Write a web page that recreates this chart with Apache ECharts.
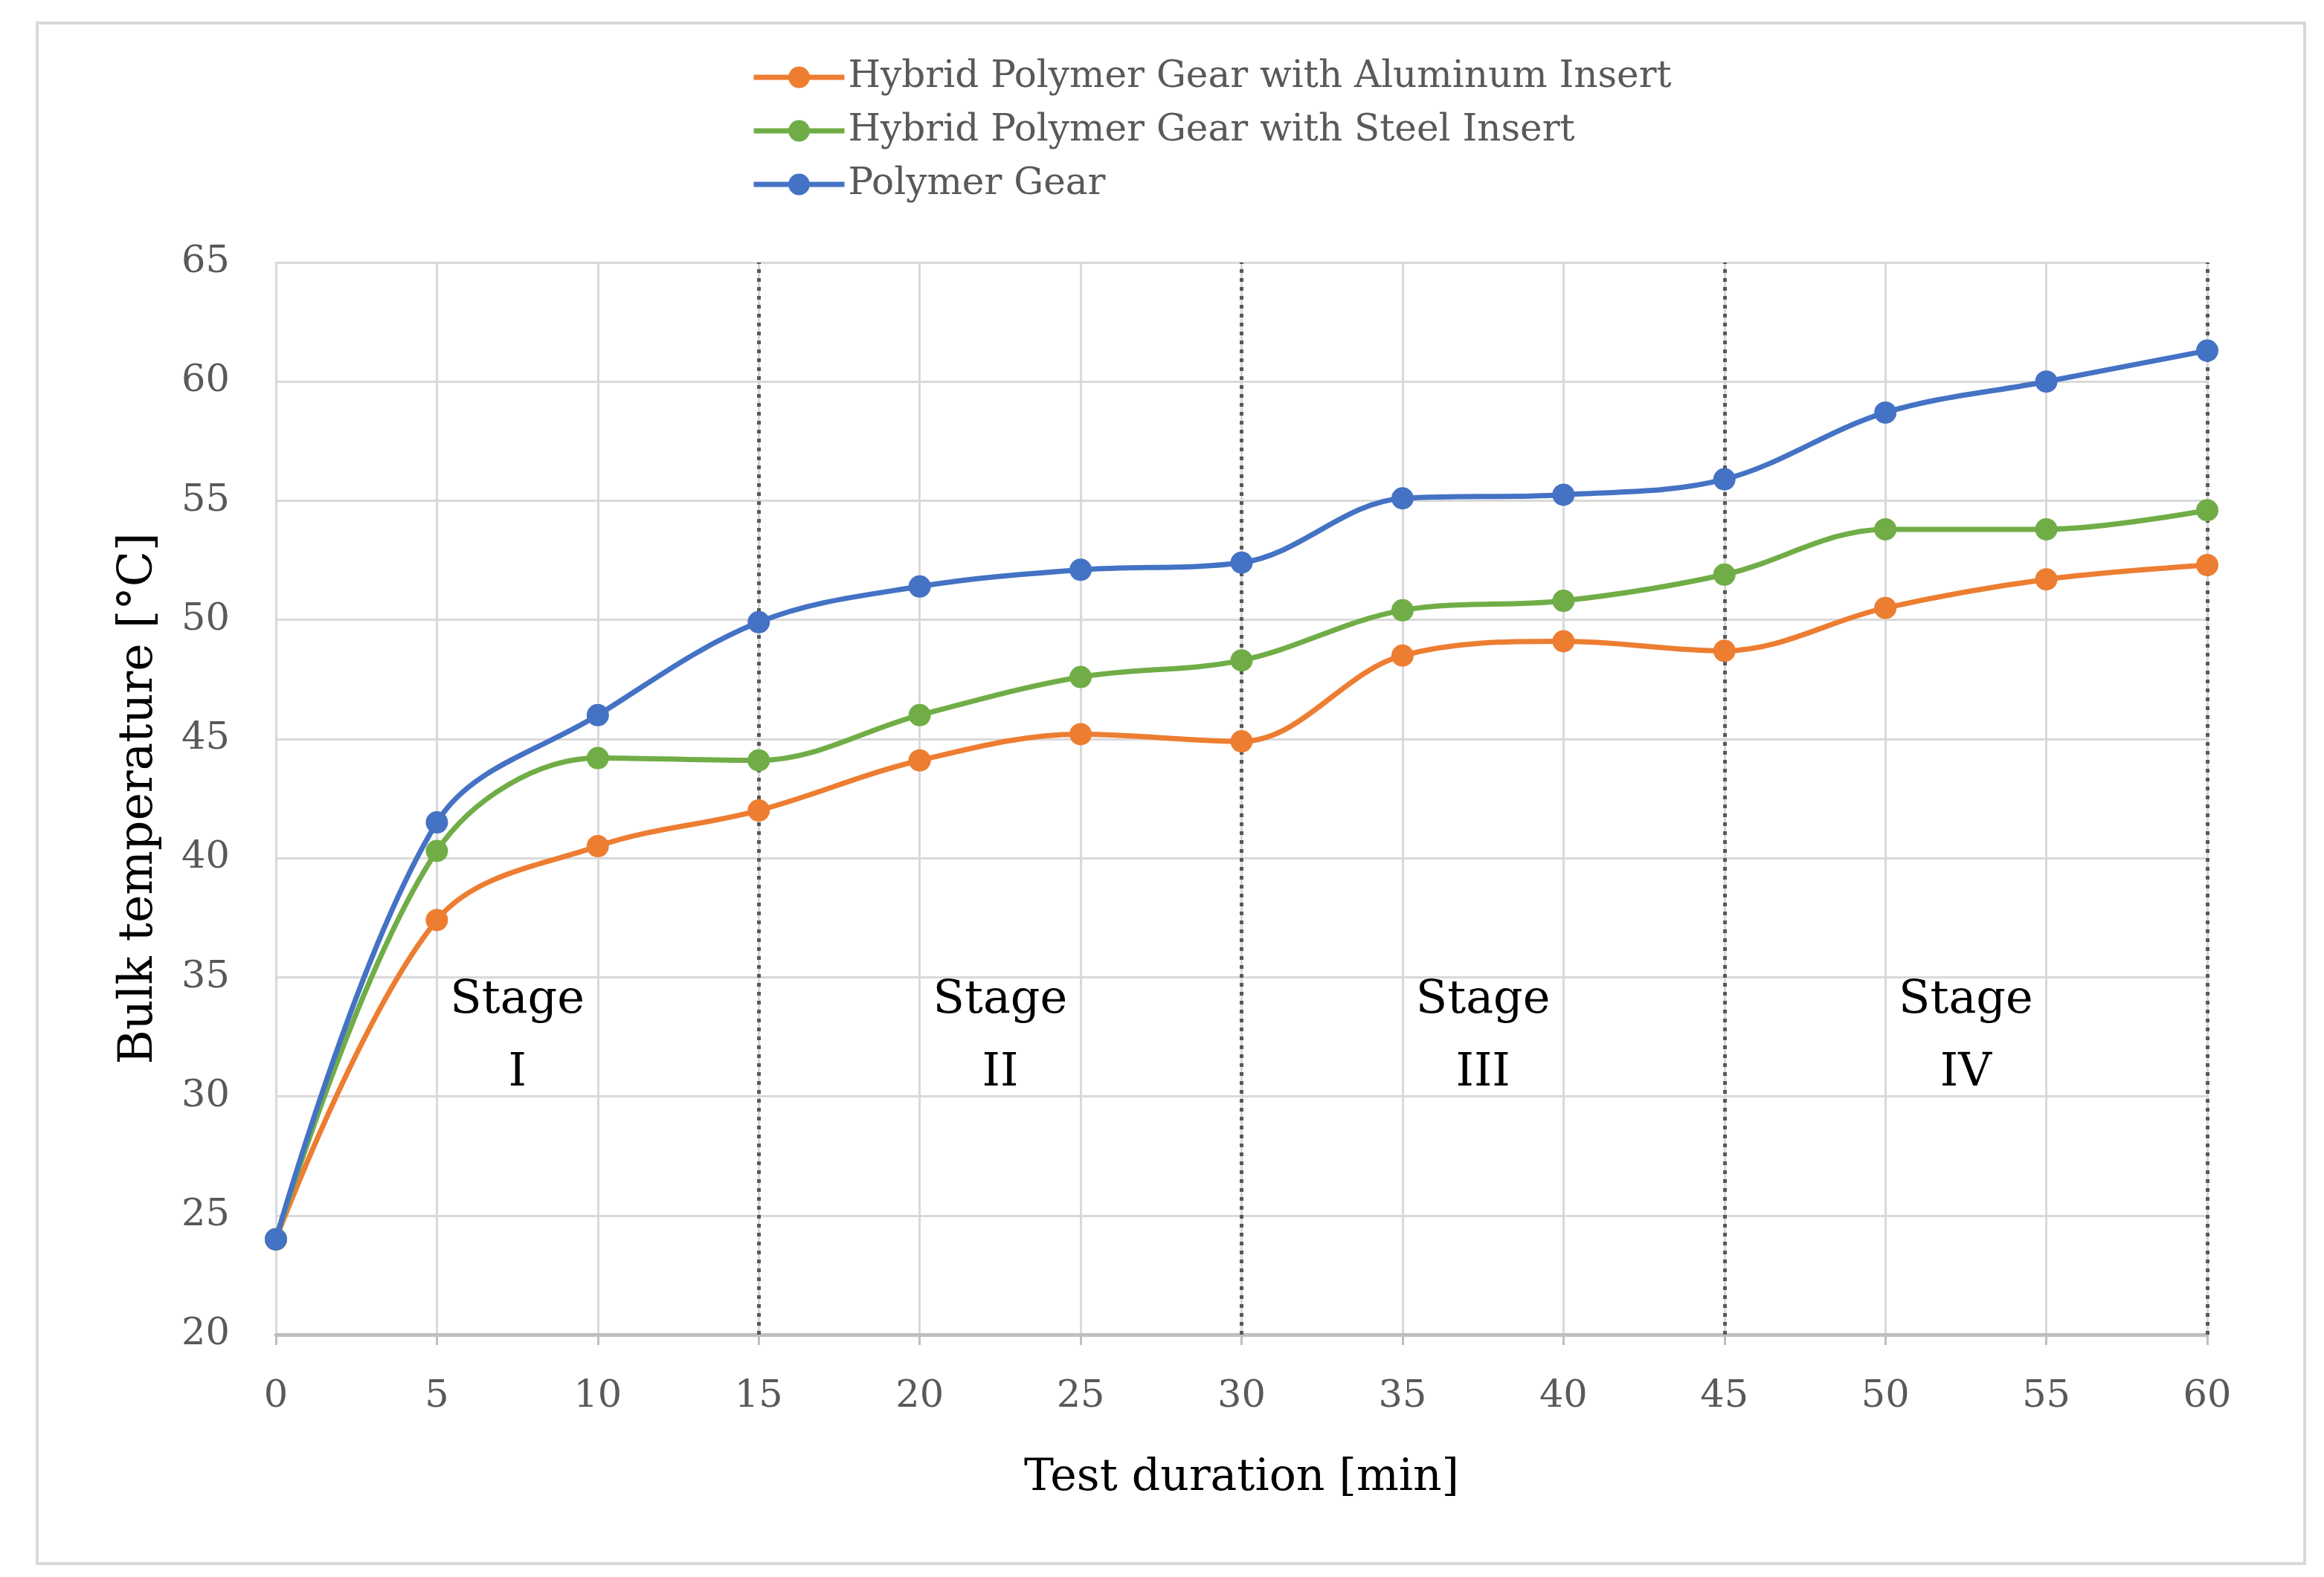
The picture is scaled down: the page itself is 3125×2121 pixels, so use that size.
<!DOCTYPE html>
<html>
<head>
<meta charset="utf-8">
<script src="https://cdn.jsdelivr.net/npm/echarts@6/dist/echarts.min.js"></script>
<style>
html, body { margin: 0; padding: 0; background: #fff; }
#chart { width: 3125px; height: 2121px; }
</style>
</head>
<body>
<div id="chart"></div>
<script>
// data
var minutes = [0, 5, 10, 15, 20, 25, 30, 35, 40, 45, 50, 55, 60];
var aluminum = [24.0, 37.4, 40.5, 42.0, 44.1, 45.2, 44.9, 48.5, 49.1, 48.7, 50.5, 51.7, 52.3];
var steel = [24.0, 40.3, 44.2, 44.1, 46.0, 47.6, 48.3, 50.4, 50.8, 51.9, 53.8, 53.8, 54.6];
var polymer = [24.0, 41.5, 46.0, 49.9, 51.4, 52.1, 52.4, 55.1, 55.25, 55.9, 58.7, 60.0, 61.3];
var seriesNames = ['Hybrid Polymer Gear with Aluminum Insert', 'Hybrid Polymer Gear with Steel Insert', 'Polymer Gear'];
var stageBounds = [15, 30, 45, 60];
var stageNames = ['I', 'II', 'III', 'IV'];
var stageMid = [7.5, 22.5, 37.5, 52.5];
var stageLabelY = 32.5;

var colors = ['#ED7D31', '#70AD47', '#4472C4'];
var serif = 'DejaVu Serif';

function pairs(ys) {
	return minutes.map(function(m, i) { return [m, ys[i]]; });
}

function lineSeries(name, ys, color) {
	return {
		name: name,
		type: 'line',
		data: pairs(ys),
		smooth: 0.35,
		symbol: 'circle',
		symbolSize: 30,
		z: 6,
		itemStyle: { color: color },
		lineStyle: { color: color, width: 7 }
	};
}

var chart = echarts.init(document.getElementById('chart'));
var option = {
	backgroundColor: '#fff',
	animation: false,
	graphic: [{
		type: 'rect',
		shape: { x: 50, y: 31, width: 3049, height: 2072 },
		style: { fill: 'none', stroke: '#d9d9d9', lineWidth: 4 },
		z: -1
	}],
	legend: {
		data: seriesNames,
		orient: 'vertical',
		left: 1005,
		top: 74,
		itemWidth: 122,
		itemHeight: 36,
		itemGap: 22,
		lineStyle: { width: 7 },
		textStyle: { fontFamily: serif, fontSize: 50, color: '#595959', lineHeight: 50 }
	},
	grid: { left: 371, right: 157, top: 353, bottom: 326, containLabel: false },
	xAxis: {
		type: 'value',
		min: 0,
		max: 60,
		interval: 5,
		name: 'Test duration [min]',
		nameLocation: 'middle',
		nameGap: 163,
		nameTextStyle: { fontFamily: serif, fontSize: 60, color: '#000' },
		axisLine: { show: true, lineStyle: { color: '#bfbfbf', width: 5 } },
		axisTick: { show: true, length: 14, lineStyle: { color: '#bfbfbf', width: 3 } },
		axisLabel: { margin: 58, fontFamily: serif, fontSize: 51, color: '#595959' },
		splitLine: { show: true, lineStyle: { color: '#d9d9d9', width: 3 } }
	},
	yAxis: {
		type: 'value',
		min: 20,
		max: 65,
		interval: 5,
		name: 'Bulk temperature [°C]',
		nameLocation: 'middle',
		nameGap: 152,
		nameTextStyle: { fontFamily: serif, fontSize: 63, color: '#000' },
		axisLine: { show: true, lineStyle: { color: '#d9d9d9', width: 3 } },
		axisTick: { show: false },
		axisLabel: { margin: 62, fontFamily: serif, fontSize: 51, color: '#595959' },
		splitLine: { show: true, lineStyle: { color: '#d9d9d9', width: 3 } }
	},
	series: [
		{
			// stage bounds and stage labels
			name: 'stages',
			type: 'line',
			data: [],
			z: 1,
			silent: true,
			markLine: {
				silent: true,
				z: 1,
				symbol: 'none',
				label: { show: false },
				lineStyle: { color: '#595959', width: 5, type: [5, 7] },
				data: stageBounds.map(function(x) { return { xAxis: x }; })
			},
			markPoint: {
				silent: true,
				z: 1,
				symbol: 'circle',
				symbolSize: 0,
				label: {
					show: true,
					position: 'inside',
					fontFamily: serif,
					fontSize: 62,
					lineHeight: 98,
					color: '#000',
					align: 'center'
				},
				data: stageMid.map(function(x, i) {
					return {
						coord: [x, stageLabelY],
						label: { formatter: 'Stage\n' + stageNames[i] }
					};
				})
			}
		},
		lineSeries(seriesNames[0], aluminum, colors[0]),
		lineSeries(seriesNames[1], steel, colors[1]),
		lineSeries(seriesNames[2], polymer, colors[2])
	]
};
chart.setOption(option);
</script>
</body>
</html>
